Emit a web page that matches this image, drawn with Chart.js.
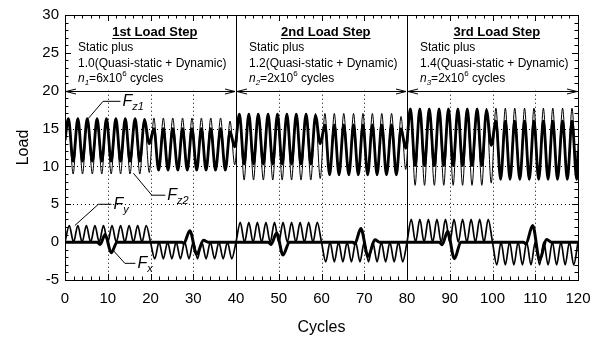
<!DOCTYPE html>
<html>
<head>
<meta charset="utf-8">
<script src="https://cdn.jsdelivr.net/npm/chart.js@4"></script>
<style>
html, body { margin: 0; padding: 0; background: #fff; }
</style>
</head>
<body>
<canvas id="chart" width="604" height="344"></canvas>
<script>
// axis ticks
const xTicks = [0, 10, 20, 30, 40, 50, 60, 70, 80, 90, 100, 110, 120];
const yTicks = [-5, 0, 5, 10, 15, 20, 25, 30];

// load steps
const stepStarts = [0, 40, 80];
const stepTitles = ['1st Load Step', '2nd Load Step', '3rd Load Step'];
const stepFactors = ['1.0', '1.2', '1.4'];
const stepCycles = ['6', '2', '2'];

// vertical force extrema (shared cycle positions)
const fzX = [0, 0.8, 1.9, 3.0, 4.1, 5.2, 6.4, 7.5, 8.6, 9.7, 10.8, 11.9, 13.0, 14.1, 15.2, 16.4, 17.5, 18.6, 19.7,
  20.8, 21.9, 23.0, 24.1, 25.2, 26.4, 27.5, 28.6, 29.7, 30.8, 31.9, 33.0, 34.1, 35.2, 36.4, 37.5, 38.6, 39.7,
  40.8, 41.9, 43.0, 44.1, 45.2, 46.4, 47.5, 48.6, 49.7, 50.8, 51.9, 53.0, 54.1, 55.2, 56.4, 57.5, 58.6, 59.7,
  60.8, 61.9, 63.0, 64.1, 65.2, 66.4, 67.5, 68.6, 69.7, 70.8, 71.9, 73.0, 74.1, 75.2, 76.4, 77.5, 78.6, 79.7,
  80.8, 81.9, 83.0, 84.1, 85.2, 86.4, 87.5, 88.6, 89.7, 90.8, 91.9, 93.0, 94.1, 95.2, 96.4, 97.5, 98.6, 99.7,
  100.8, 101.9, 103.0, 104.1, 105.2, 106.4, 107.5, 108.6, 109.7, 110.8, 111.9, 113.0, 114.1, 115.2, 116.4, 117.5, 118.6, 119.7, 120];

const fzThin = [12.7,
  16.4, 9.0, 16.4, 9.0, 16.4, 9.0, 16.4, 9.0, 16.4, 9.0, 16.4, 9.0, 16.4, 9.0, 16.4, 9.0, 16.4, 9.2,
  16.4, 9.4, 16.4, 9.4, 16.4, 9.4, 16.4, 9.4, 16.4, 9.4, 16.4, 9.4, 16.4, 9.4, 16.4, 9.4, 16.0, 10.2,
  17.0, 8.2, 17.0, 8.2, 17.0, 8.2, 17.0, 8.2, 17.0, 8.2, 17.0, 8.2, 17.0, 8.2, 17.0, 8.2, 17.0, 8.4,
  17.0, 8.8, 17.0, 8.8, 17.0, 8.8, 17.0, 8.8, 17.0, 8.8, 17.0, 8.8, 17.0, 8.8, 17.0, 8.8, 16.6, 9.6,
  17.7, 7.5, 17.7, 7.5, 17.7, 7.5, 17.7, 7.5, 17.7, 7.5, 17.7, 7.5, 17.7, 7.5, 17.7, 7.5, 17.7, 7.8,
  17.7, 8.2, 17.7, 8.2, 17.7, 8.2, 17.7, 8.2, 17.7, 8.2, 17.7, 8.2, 17.7, 8.2, 17.7, 8.2, 17.7, 8.2, 13.0];

const fzThick = [13.5,
  16.3, 10.7, 16.3, 10.7, 16.3, 10.7, 16.3, 10.7, 16.3, 10.7, 16.3, 10.7, 16.3, 10.7, 16.3, 10.7, 16.1, 13.0,
  15.0, 9.5, 15.0, 9.5, 15.0, 9.5, 15.0, 9.5, 15.0, 9.5, 15.0, 9.5, 15.0, 9.5, 15.0, 9.5, 14.6, 12.6,
  16.9, 10.3, 16.9, 10.3, 16.9, 10.3, 16.9, 10.3, 16.9, 10.3, 16.9, 10.3, 16.9, 10.3, 16.9, 10.3, 16.7, 13.0,
  15.5, 8.9, 15.5, 8.9, 15.5, 8.9, 15.5, 8.9, 15.5, 8.9, 15.5, 8.9, 15.5, 8.9, 15.5, 8.9, 15.0, 12.4,
  17.6, 10.1, 17.6, 10.1, 17.6, 10.1, 17.6, 10.1, 17.6, 10.1, 17.6, 10.1, 17.6, 10.1, 17.6, 10.1, 17.4, 12.8,
  16.0, 8.3, 16.0, 8.3, 16.0, 8.3, 16.0, 8.3, 16.0, 8.3, 16.0, 8.3, 16.0, 8.3, 16.0, 8.3, 16.0, 8.3, 12.0];

// lateral force Fy
const fyX = [0, 1, 2, 3, 4, 5, 6, 7, 8, 9, 10, 11, 12, 13, 14, 15, 16, 17, 18, 19,
  20, 21, 22, 23, 24, 25, 26, 27, 28, 29, 30, 31, 32, 33, 34, 35, 36, 37, 38, 39,
  40, 41, 42, 43, 44, 45, 46, 47, 48, 49, 50, 51, 52, 53, 54, 55, 56, 57, 58, 59,
  60, 61, 62, 63, 64, 65, 66, 67, 68, 69, 70, 71, 72, 73, 74, 75, 76, 77, 78, 79,
  80, 81, 82, 83, 84, 85, 86, 87, 88, 89, 90, 91, 92, 93, 94, 95, 96, 97, 98, 99,
  100, 101, 102, 103, 104, 105, 106, 107, 108, 109, 110, 111, 112, 113, 114, 115, 116, 117, 118, 119, 120];
const fy = [0, 2.2, 0, 2.2, 0, 2.2, 0, 2.2, 0, 2.2, 0, 2.2, 0, 2.2, 0, 2.2, 0, 2.2, 0, 2.2,
  0, -2.2, 0, -2.2, 0, -2.2, 0, -2.2, 0, -2.2, 0, -2.2, 0, -2.2, 0, -2.2, 0, -2.2, 0, -2.2,
  0, 2.6, 0, 2.6, 0, 2.6, 0, 2.6, 0, 2.6, 0, 2.6, 0, 2.6, 0, 2.6, 0, 2.6, 0, 2.6,
  0, -2.6, 0, -2.6, 0, -2.6, 0, -2.6, 0, -2.6, 0, -2.6, 0, -2.6, 0, -2.6, 0, -2.6, 0, -2.6,
  0, 3.0, 0, 3.0, 0, 3.0, 0, 3.0, 0, 3.0, 0, 3.0, 0, 3.0, 0, 3.0, 0, 3.0, 0, 3.0,
  0, -3.0, 0, -3.0, 0, -3.0, 0, -3.0, 0, -3.0, 0, -3.0, 0, -3.0, 0, -3.0, 0, -3.0, 0, -3.0, 0];

// longitudinal force Fx
const fxX = [0, 7.5, 8.2, 9.4, 10.8, 12.2, 27.3, 27.8, 29.2, 30.8, 32.4, 33.5,
  47.5, 48.2, 49.5, 51.0, 52.5, 67.3, 67.8, 69.2, 70.9, 72.5, 73.6,
  87.5, 88.2, 89.5, 91.1, 92.6, 107.3, 107.8, 109.4, 111.0, 112.7, 113.8, 120];
const fx = [0, 0, -0.3, 1.0, -1.4, 0, 0, -0.15, 1.5, -1.6, 0.25, 0,
  0, -0.3, 1.2, -1.7, 0, 0, -0.2, 1.8, -1.9, 0.3, 0,
  0, -0.35, 1.4, -2.2, 0, 0, -0.25, 2.2, -2.3, 0.35, 0, 0];

// series labels: name, subscript, leader target, elbow, text start (data units)
const seriesLabels = [
  ['F', 'z1', [5.4, 16.3], [8.9, 18.6], [13.2, 18.6]],
  ['F', 'z2', [16.0, 9.1], [20.3, 6.2], [23.7, 6.2]],
  ['F', 'y', [2.3, 2.2], [7.8, 5.0], [11.1, 5.0]],
  ['F', 'x', [11.3, -1.1], [14.0, -2.8], [16.7, -2.8]]
];

const FONT = '"Liberation Sans", Arial, sans-serif';
const pts = (xs, ys) => xs.map((v, i) => ({ x: v, y: ys[i] }));

function line(ctx, x1, y1, x2, y2) {
  ctx.beginPath();
  ctx.moveTo(x1, y1);
  ctx.lineTo(x2, y2);
  ctx.stroke();
}

function arrowHead(ctx, px, py, dir) {
  ctx.beginPath();
  ctx.moveTo(px - dir * 10, py - 2.5);
  ctx.lineTo(px, py);
  ctx.lineTo(px - dir * 10, py + 2.5);
  ctx.stroke();
}

const decor = {
  id: 'decor',
  beforeDatasetsDraw(chart) {
    const { ctx, chartArea: a, scales: { x, y } } = chart;
    ctx.save();
    ctx.strokeStyle = '#000';
    ctx.lineWidth = 1;
    ctx.setLineDash([1, 3]);
    const y20 = y.getPixelForValue(20);
    xTicks.forEach(v => {
      if (v === 0 || v === 120 || stepStarts.includes(v)) return;
      const px = Math.round(x.getPixelForValue(v)) + 0.5;
      line(ctx, px, y20, px, a.bottom);
    });
    [5, 10, 15].forEach(v => {
      const py = Math.round(y.getPixelForValue(v)) + 0.5;
      line(ctx, a.left, py, a.right, py);
    });
    ctx.setLineDash([]);
    [40, 80].forEach(v => {
      const px = Math.round(x.getPixelForValue(v)) + 0.5;
      line(ctx, px, a.top, px, a.bottom);
    });
    ctx.restore();
  },
  afterDatasetsDraw(chart) {
    const { ctx, chartArea: a, scales: { x, y } } = chart;
    ctx.save();
    ctx.strokeStyle = '#000';
    ctx.fillStyle = '#000';
    ctx.lineWidth = 1;
    // frame
    ctx.strokeRect(Math.round(a.left) + 0.5, Math.round(a.top) + 0.5,
      Math.round(a.right - a.left), Math.round(a.bottom - a.top));
    // inward ticks
    for (let v = -5; v <= 30; v++) {
      const py = Math.round(y.getPixelForValue(v)) + 0.5;
      const len = v % 5 === 0 ? 6 : 3.5;
      line(ctx, a.left, py, a.left + len, py);
      line(ctx, a.right - len, py, a.right, py);
    }
    for (let v = 0; v <= 120; v += 2) {
      const px = Math.round(x.getPixelForValue(v)) + 0.5;
      const len = v % 10 === 0 ? 6 : 3.5;
      line(ctx, px, a.bottom, px, a.bottom - len);
      line(ctx, px, a.top, px, a.top + len);
    }
    // double arrows at Load = 20
    const y20 = Math.round(y.getPixelForValue(20)) + 0.5;
    stepStarts.forEach(s => {
      const x1 = x.getPixelForValue(s) + 1, x2 = x.getPixelForValue(s + 40) - 1;
      line(ctx, x1, y20, x2, y20);
      arrowHead(ctx, x1, y20, -1);
      arrowHead(ctx, x2, y20, 1);
    });
    // step texts
    stepStarts.forEach((s, i) => {
      const left = x.getPixelForValue(s) + 13;
      const mid = x.getPixelForValue(s + 21);
      ctx.textBaseline = 'middle';
      ctx.textAlign = 'center';
      ctx.font = 'bold 13px ' + FONT;
      ctx.fillText(stepTitles[i], mid, a.top + 17);
      const w = ctx.measureText(stepTitles[i]).width;
      line(ctx, mid - w / 2, a.top + 23.5, mid + w / 2, a.top + 23.5);
      ctx.textAlign = 'left';
      ctx.font = '12px ' + FONT;
      ctx.fillText('Static plus', left, a.top + 32.5);
      ctx.fillText(stepFactors[i] + '(Quasi-static + Dynamic)', left, a.top + 48.5);
      let cx = left;
      const ly = a.top + 64;
      ctx.font = 'italic 12px ' + FONT;
      ctx.fillText('n', cx, ly); cx += ctx.measureText('n').width;
      ctx.font = 'italic 8px ' + FONT;
      ctx.fillText(String(i + 1), cx, ly + 4); cx += ctx.measureText(String(i + 1)).width;
      ctx.font = '12px ' + FONT;
      const t1 = '=' + stepCycles[i] + 'x10';
      ctx.fillText(t1, cx, ly); cx += ctx.measureText(t1).width;
      ctx.font = '8px ' + FONT;
      ctx.fillText('6', cx, ly - 5); cx += ctx.measureText('6').width;
      ctx.font = '12px ' + FONT;
      ctx.fillText(' cycles', cx, ly);
    });
    // series labels with leader lines
    seriesLabels.forEach(([name, sub, tgt, elb, txt]) => {
      const tx = x.getPixelForValue(tgt[0]), ty = y.getPixelForValue(tgt[1]);
      const ex = x.getPixelForValue(elb[0]), ey = y.getPixelForValue(elb[1]);
      const sx = x.getPixelForValue(txt[0]);
      line(ctx, tx, ty, ex, ey);
      line(ctx, ex, ey, sx - 1, ey);
      ctx.textAlign = 'left';
      ctx.textBaseline = 'middle';
      ctx.font = 'italic 16px ' + FONT;
      ctx.fillText(name, sx + 1, ey);
      const w = ctx.measureText(name).width;
      ctx.font = 'italic 11px ' + FONT;
      ctx.fillText(sub, sx + 1 + w, ey + 6);
    });
    ctx.restore();
  }
};

new Chart(document.getElementById('chart'), {
  type: 'line',
  data: {
    datasets: [
      { label: 'Fx', data: pts(fxX, fx), borderColor: '#000', borderWidth: 3, pointRadius: 0, cubicInterpolationMode: 'monotone', order: 0 },
      { label: 'Fy', data: pts(fyX, fy), borderColor: '#000', borderWidth: 1.7, pointRadius: 0, cubicInterpolationMode: 'monotone', order: 1 },
      { label: 'Fz thick', data: pts(fzX, fzThick), borderColor: '#000', borderWidth: 2.8, pointRadius: 0, cubicInterpolationMode: 'monotone', order: 2 },
      { label: 'Fz thin', data: pts(fzX, fzThin), borderColor: '#000', borderWidth: 1, pointRadius: 0, cubicInterpolationMode: 'monotone', order: 3 }
    ]
  },
  options: {
    responsive: false,
    animation: false,
    layout: { padding: { top: 12, right: 26, bottom: 0, left: 0 } },
    plugins: { legend: { display: false }, tooltip: { enabled: false } },
    scales: {
      x: {
        type: 'linear', min: 0, max: 120,
        afterFit(s) { s.height = 64; },
        afterBuildTicks(s) { s.ticks = xTicks.map(v => ({ value: v })); },
        grid: { display: false, drawTicks: false },
        border: { display: false },
        ticks: { font: { family: FONT, size: 15 }, color: '#000', padding: 10, maxRotation: 0, autoSkip: false },
        title: { display: true, text: 'Cycles', font: { family: FONT, size: 16 }, color: '#000', padding: { top: 0, bottom: 7 } }
      },
      y: {
        type: 'linear', min: -5, max: 30,
        afterFit(s) { s.width = 65; },
        afterBuildTicks(s) { s.ticks = yTicks.map(v => ({ value: v })); },
        grid: { display: false, drawTicks: false },
        border: { display: false },
        ticks: { font: { family: FONT, size: 15 }, color: '#000', padding: 6 },
        title: { display: true, text: 'Load', font: { family: FONT, size: 16 }, color: '#000', padding: { top: 14, bottom: 0 } }
      }
    }
  },
  plugins: [decor]
});
</script>
</body>
</html>
